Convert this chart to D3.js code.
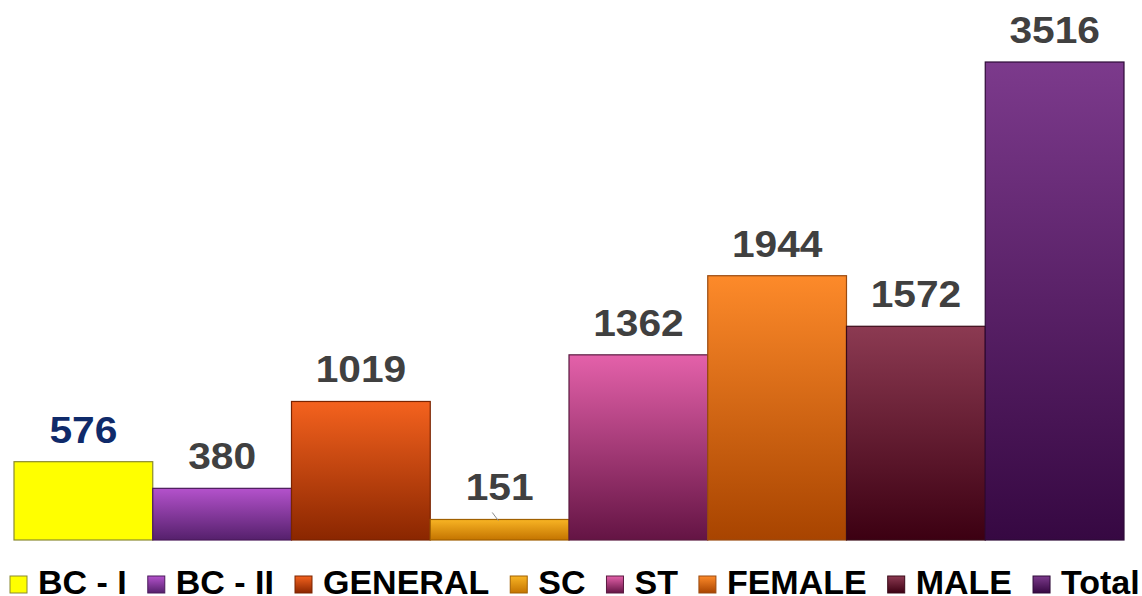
<!DOCTYPE html>
<html>
<head>
<meta charset="utf-8">
<script src="https://cdn.jsdelivr.net/npm/d3@7"></script>
<style>
  body { margin: 0; background: #fff; }
  svg { display: block; }
</style>
</head>
<body>
<div id="chart"></div>
<script>
const categories = ["BC - I", "BC - II", "GENERAL", "SC", "ST", "FEMALE", "MALE", "Total"]
const values = [576, 380, 1019, 151, 1362, 1944, 1572, 3516]
// top / bottom colours of each bar gradient
const topColors = ["#ffff00", "#b452cc", "#f4621e", "#f8b424", "#e461aa", "#fd8a2a", "#8c3a52", "#7c3a8c"]
const bottomColors = ["#ffff00", "#55206c", "#8a2600", "#c47400", "#641444", "#a84400", "#3c0012", "#360842"]
const strokeColors = ["#8a8a30", "#4a1a5a", "#7a2400", "#a06000", "#5a1a40", "#9a4a10", "#3a0a18", "#2e0a38"]
const labelColors = ["#0f2a6a", "#404040", "#404040", "#404040", "#404040", "#404040", "#404040", "#404040"]

const width = 1142, height = 596

const svg = d3.select("#chart").append("svg")
    .attr("width", width)
    .attr("height", height)

const defs = svg.append("defs")
categories.forEach((c, i) => {
    const g = defs.append("linearGradient")
        .attr("id", "grad-" + i)
        .attr("x1", 0).attr("y1", 0).attr("x2", 0).attr("y2", 1)
    g.append("stop").attr("offset", "0%").attr("stop-color", topColors[i])
    g.append("stop").attr("offset", "100%").attr("stop-color", bottomColors[i])
})

const x = d3.scaleBand()
    .domain(categories)
    .range([14, 1124])
    .padding(0)

const y = d3.scaleLinear()
    .domain([0, d3.max(values)])
    .range([540, 62])

svg.append("g")
    .selectAll("rect")
    .data(categories)
    .enter().append("rect")
    .attr("x", d => x(d))
    .attr("y", (d, i) => y(values[i]))
    .attr("width", x.bandwidth())
    .attr("height", (d, i) => y(0) - y(values[i]))
    .attr("fill", (d, i) => "url(#grad-" + i + ")")
    .attr("stroke", (d, i) => strokeColors[i])
    .attr("stroke-width", 1.2)

// little leader line under the SC label
svg.append("line")
    .attr("x1", x("SC") + 62).attr("y1", y(values[3]) - 7)
    .attr("x2", x("SC") + 68).attr("y2", y(values[3]) + 1)
    .attr("stroke", "#8a8a8a")
    .attr("stroke-width", 1)

// value labels, slightly widened like the original
svg.append("g")
    .selectAll("text")
    .data(categories)
    .enter().append("text")
    .attr("transform", (d, i) => `translate(${x(d) + x.bandwidth() / 2},${y(values[i]) - 19}) scale(1.1,1)`)
    .attr("text-anchor", "middle")
    .style("font-family", "'Liberation Sans', Arial, sans-serif")
    .style("font-weight", "bold")
    .style("font-size", "37px")
    .style("fill", (d, i) => labelColors[i])
    .text((d, i) => values[i])

// legend
const legend = svg.append("g")
let lx = 10
categories.forEach((c, i) => {
    const item = legend.append("g").attr("transform", `translate(${lx},0)`)
    item.append("rect")
        .attr("x", 0).attr("y", 576)
        .attr("width", 17).attr("height", 17)
        .attr("fill", "url(#grad-" + i + ")")
        .attr("stroke", strokeColors[i])
        .attr("stroke-width", 1)
    const t = item.append("text")
        .attr("x", 28).attr("y", 594)
        .style("font-family", "'Liberation Sans', Arial, sans-serif")
        .style("font-weight", "bold")
        .style("font-size", "34px")
        .style("fill", "#000")
        .text(c)
    lx += 28 + t.node().getComputedTextLength() + 21
})
</script>
</body>
</html>
